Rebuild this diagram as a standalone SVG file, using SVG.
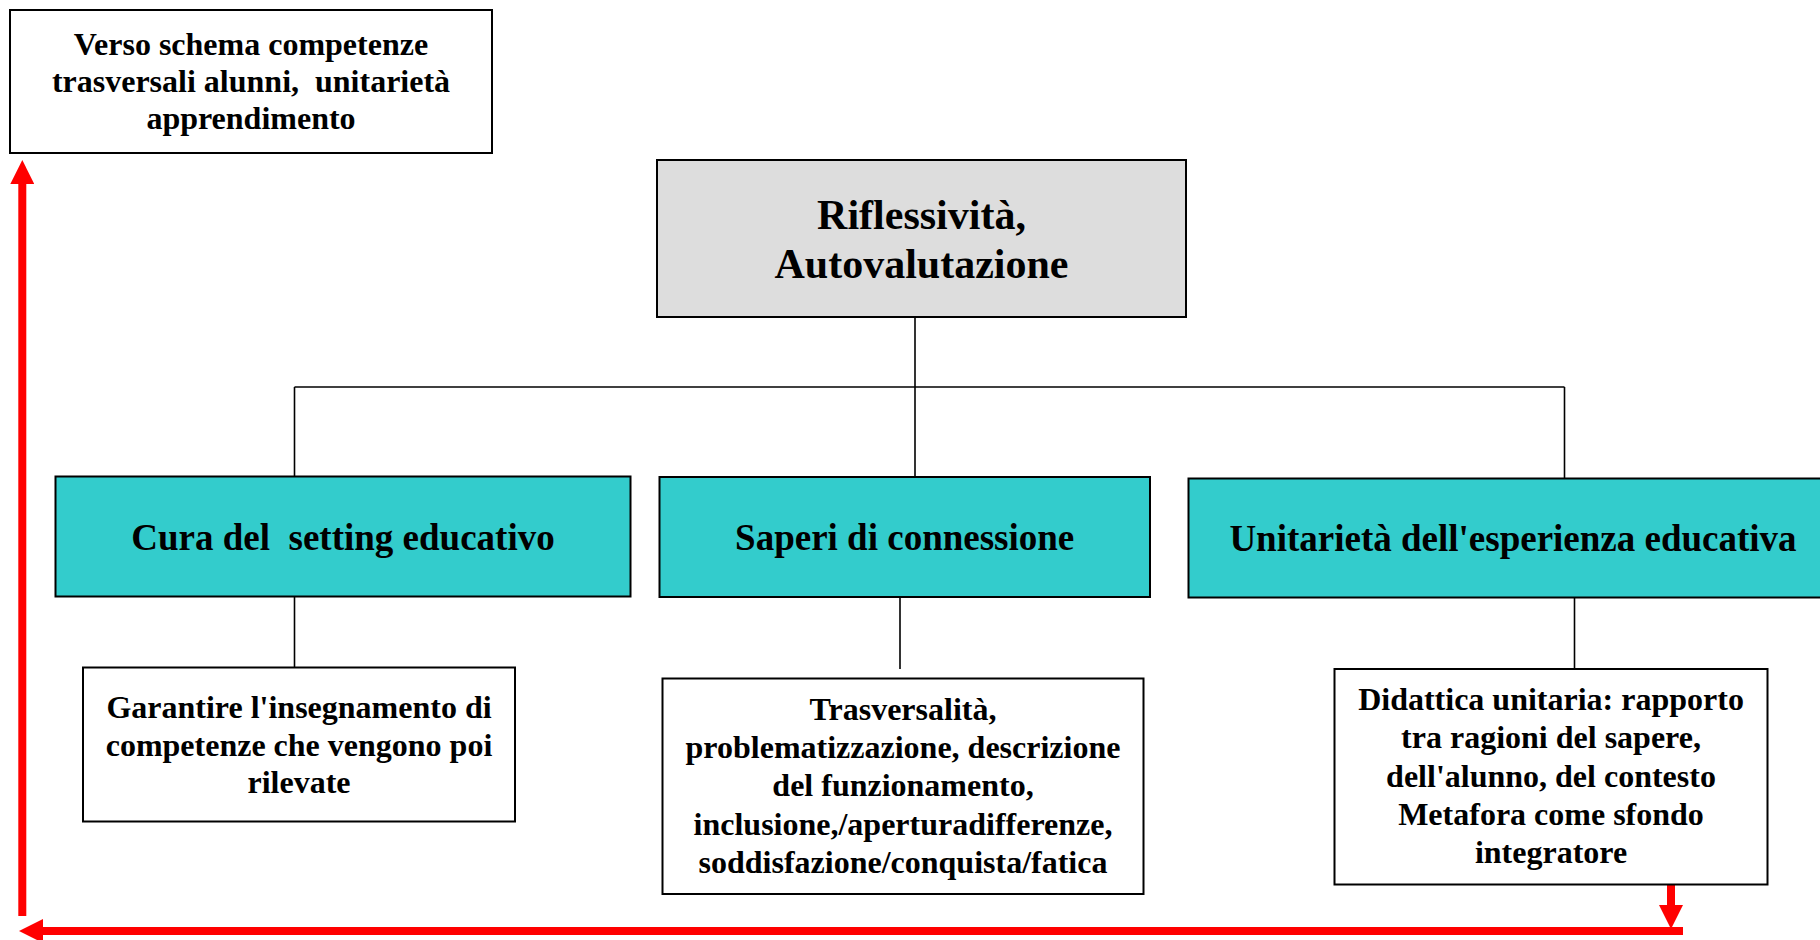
<svg xmlns="http://www.w3.org/2000/svg" width="1820" height="940" viewBox="0 0 1820 940">
<defs>
<style>
.box{stroke:#000;stroke-width:2}
.white{fill:#fff}
.gray{fill:#dddddd}
.teal{fill:#33cccc}
.t{font-family:"Liberation Serif","Times New Roman",serif;font-weight:bold;fill:#000;text-anchor:middle}
.f32{font-size:32px}
.f37{font-size:37px}
.f42{font-size:42px}
.conn{stroke:#000;stroke-width:1.6;fill:none}
.red{stroke:#ff0000;stroke-width:8;fill:none}
</style>
<marker id="rh" markerUnits="userSpaceOnUse" markerWidth="24" markerHeight="24" refX="0" refY="12" orient="auto" viewBox="0 0 24 24">
<path d="M0,0 L24,12 L0,24 z" fill="#ff0000"/>
</marker>
</defs>
<rect width="1820" height="940" fill="#fff"/>

<g id="connectors">
<line class="conn" x1="915" y1="312" x2="915" y2="478"/>
<line class="conn" x1="294.5" y1="387" x2="1564.5" y2="387"/>
<line class="conn" x1="294.5" y1="387" x2="294.5" y2="477"/>
<line class="conn" x1="1564.5" y1="387" x2="1564.5" y2="479"/>
<line class="conn" x1="294.5" y1="597" x2="294.5" y2="668"/>
<line class="conn" x1="900" y1="597" x2="900" y2="669"/>
<line class="conn" x1="1574.5" y1="597" x2="1574.5" y2="669"/>
<path class="red" d="M1671,885 L1671,905" marker-end="url(#rh)"/>
<path class="red" d="M1683,931 L43,931" marker-end="url(#rh)"/>
<path class="red" d="M22.3,916 L22.3,184" marker-end="url(#rh)"/>
</g>

<g id="verso">
<rect class="box white" x="10" y="10" width="482" height="143"/>
<text class="t f32" x="251" y="55">Verso schema competenze</text>
<text class="t f32" x="251" y="92" xml:space="preserve">trasversali alunni,  unitarietà</text>
<text class="t f32" x="251" y="129">apprendimento</text>
</g>

<g id="riflessivita">
<rect class="box gray" x="657" y="160" width="529" height="157"/>
<text class="t f42" x="921.5" y="229">Riflessività,</text>
<text class="t f42" x="921.5" y="278">Autovalutazione</text>
</g>

<g id="cura">
<rect class="box teal" x="55.5" y="476.5" width="575" height="120"/>
<text class="t f37" x="343" y="550" xml:space="preserve">Cura del  setting educativo</text>
</g>

<g id="saperi">
<rect class="box teal" x="659.5" y="477" width="490.5" height="120"/>
<text class="t f37" x="904.7" y="550">Saperi di connessione</text>
</g>

<g id="unitarieta">
<rect class="box teal" x="1188.5" y="478.5" width="650" height="119"/>
<text class="t f37" x="1513" y="551">Unitarietà dell'esperienza educativa</text>
</g>

<g id="garantire">
<rect class="box white" x="83" y="667.5" width="432" height="154"/>
<text class="t f32" x="299" y="718">Garantire l'insegnamento di</text>
<text class="t f32" x="299" y="756">competenze che vengono poi</text>
<text class="t f32" x="299" y="793">rilevate</text>
</g>

<g id="trasversalita">
<rect class="box white" x="662.5" y="678.5" width="481" height="215.5"/>
<text class="t f32" x="903" y="720">Trasversalità,</text>
<text class="t f32" x="903" y="758">problematizzazione, descrizione</text>
<text class="t f32" x="903" y="796">del funzionamento,</text>
<text class="t f32" x="903" y="835">inclusione,/aperturadifferenze,</text>
<text class="t f32" x="903" y="873">soddisfazione/conquista/fatica</text>
</g>

<g id="didattica">
<rect class="box white" x="1334.5" y="669" width="433" height="215.5"/>
<text class="t f32" x="1551" y="710">Didattica unitaria: rapporto</text>
<text class="t f32" x="1551" y="748">tra ragioni del sapere,</text>
<text class="t f32" x="1551" y="787">dell'alunno, del contesto</text>
<text class="t f32" x="1551" y="825">Metafora come sfondo</text>
<text class="t f32" x="1551" y="863">integratore</text>
</g>
</svg>
